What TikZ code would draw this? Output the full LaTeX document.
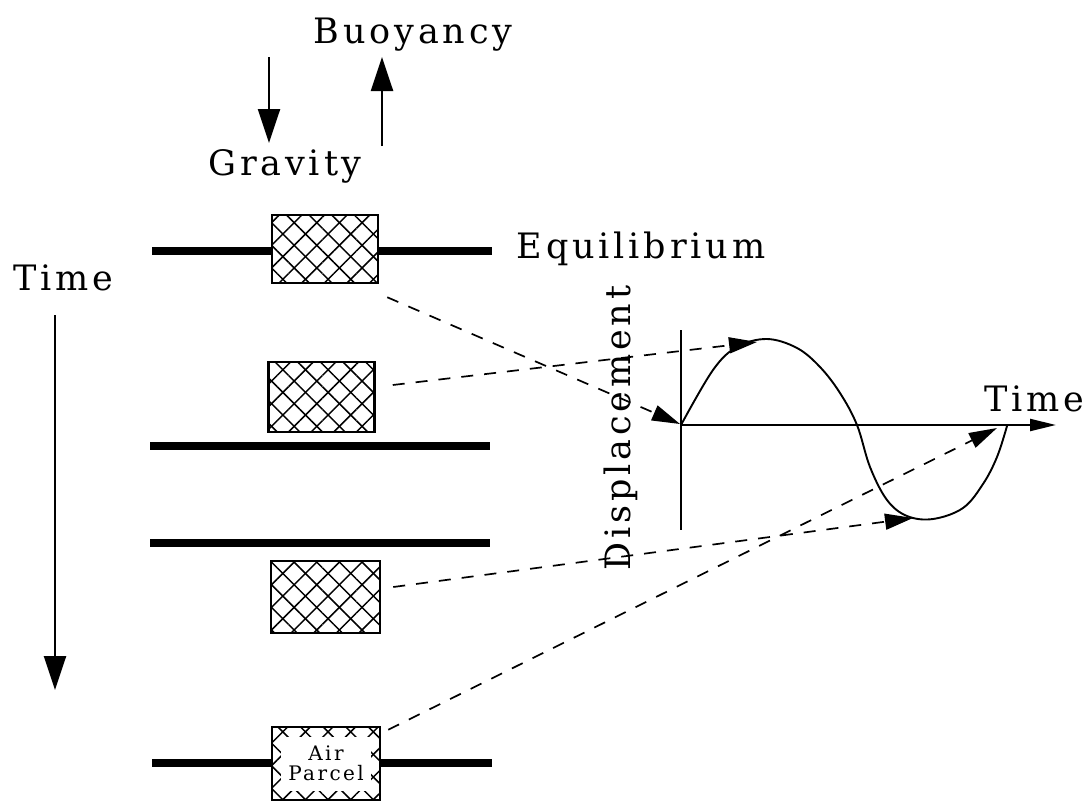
\documentclass[tikz,border=0pt]{standalone}
\usepackage{fontspec}
\newfontfamily\lblfont{DejaVu Serif}[LetterSpace=11]
\newfontfamily\smallfont{DejaVu Serif}[LetterSpace=12]
\usetikzlibrary{arrows.meta,patterns.meta,calc}
\tikzset{
  lbl/.style={font=\lblfont\fontsize{35}{40}\selectfont, inner sep=0pt},
  small/.style={font=\smallfont\fontsize{20}{22}\selectfont, inner sep=0pt, align=center},
  parcel/.style={draw, line width=2.5pt, inner sep=0pt, minimum width=106pt, minimum height=70pt,
    preaction={fill=white},
    preaction={pattern={Lines[angle=45,distance=16pt,line width=1.5pt]}},
    preaction={pattern={Lines[angle=-45,distance=16pt,line width=1.5pt]}}},
  level/.style={line width=7.5pt},
  bigarrow/.style={line width=2.4pt, -{Triangle[length=34pt,width=22pt]}},
  link/.style={line width=1.7pt, dash pattern=on 12pt off 11pt, -{Triangle[length=28pt,width=16pt]}},
  axis/.style={line width=2.2pt},
  curve/.style={line width=1.9pt},
}
\begin{document}
\begin{tikzpicture}[x=1pt,y=-1pt]
\useasboundingbox (0,0) rectangle (1092,811);

% level lines
\coordinate (l1a) at (152,251); \coordinate (l1b) at (492,251);
\coordinate (l2a) at (150,446); \coordinate (l2b) at (490,446);
\coordinate (l3a) at (150,543); \coordinate (l3b) at (490,543);
\coordinate (l4a) at (152,763); \coordinate (l4b) at (492,763);
\draw[level] (l1a) -- (l1b);
\draw[level] (l2a) -- (l2b);
\draw[level] (l3a) -- (l3b);
\draw[level] (l4a) -- (l4b);

% parcels
\node[parcel, minimum height=68pt] (b1) at (325,249) {};
\node[parcel] (b2) at (321.5,397) {};
\node[parcel, minimum height=72pt, minimum width=109pt] (b3) at (325.5,597) {};
\node[parcel, minimum height=73pt, minimum width=108pt] (b4) at (326,763.5) {};
\node[small, fill=white, minimum width=90pt, minimum height=54pt] (air) at (b4.center) {Air\\[-2pt]Parcel};

% labels
\node[lbl, anchor=base] (buoy) at (413,43) {Buoyancy};
\node[lbl, anchor=base] (grav) at (285,175) {Gravity};
\node[lbl, anchor=base] (equi) at (641,258) {Equilibrium};
\node[lbl, anchor=base] (timeL) at (63,290) {Time};
\node[lbl, anchor=base] (timeR) at (1034,411) {Time};
\node[lbl, anchor=base, rotate=90] (disp) at (630,428) {Displacement};

% force arrows
\coordinate (g0) at (269,57); \coordinate (g1) at (269,143);
\coordinate (u0) at (382,146); \coordinate (u1) at (382,57);
\draw[bigarrow] (g0) -- (g1);
\draw[bigarrow] (u0) -- (u1);

% time arrow
\coordinate (t0) at (55,315); \coordinate (t1) at (55,690);
\draw[bigarrow] (t0) -- (t1);

% graph axes
\coordinate (o) at (681,425);
\coordinate (ytop) at (681,330); \coordinate (ybot) at (681,530);
\coordinate (xend) at (1056,425);
\draw[axis] (ytop) -- (ybot);
\draw[axis, -{Triangle[length=26pt,width=12pt]}] (o) -- (xend);

% oscillation curve
\draw[curve] plot[smooth, tension=0.6] coordinates {
  (681,425) (713,370) (737,347) (767,339) (797,348) (820,367) (840,393) (857,425)
  (870,467) (887,500) (907,516) (933,519) (963,508) (983,484) (997,457) (1007,426)};

% targets on the curve
\coordinate (p1) at (680,424);
\coordinate (p2) at (757,342);
\coordinate (p3) at (913,518);
\coordinate (p4) at (997,428);

% starts beside the parcels
\coordinate (s1) at ($(b1.south east)+(8,13)$);
\coordinate (s2) at ($(b2.east)+(17,-12)$);
\coordinate (s3) at ($(b3.east)+(12,-10)$);
\coordinate (s4) at ($(b4.north east)+(7,4)$);

\draw[link] (s1) -- (p1);
\draw[link] (s2) -- (p2);
\draw[link] (s3) -- (p3);
\draw[link] (s4) -- (p4);
\end{tikzpicture}
\end{document}
